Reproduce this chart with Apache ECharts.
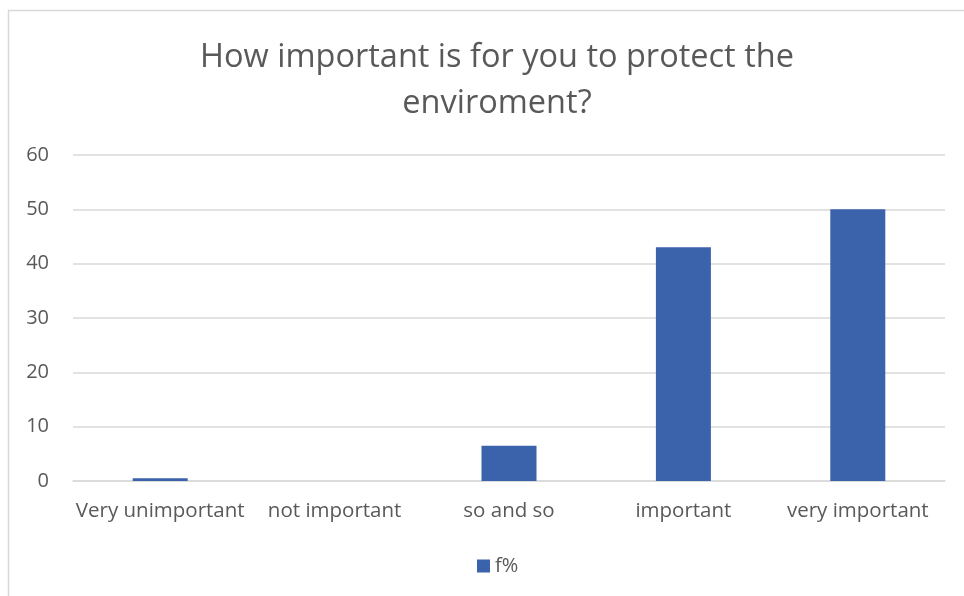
<!DOCTYPE html>
<html><head><meta charset="utf-8">
<script src="https://cdn.jsdelivr.net/npm/echarts@6/dist/echarts.min.js"></script>
<style>html,body{margin:0;padding:0;background:#fff;}#c{width:964px;height:596px;}</style>
</head><body><div id="c"></div>
<script>
const categories = ['Very unimportant', 'not important', 'so and so', 'important', 'very important'];
const seriesName = 'f%';
const values = [0.5, 0, 6.5, 43, 50];
const titleLines = ['How important is for you to protect the', 'enviroment?'];

const chart = echarts.init(document.getElementById('c'), null, {renderer: 'canvas'});
const FONT = '"Open Sans", "Noto Sans", sans-serif';
chart.setOption({
  animation: false,
  backgroundColor: '#fff',
  graphic: [{
    type: 'rect', shape: {x: 8.5, y: 10.5, width: 1000, height: 700},
    style: {fill: 'none', stroke: '#d9d9d9', lineWidth: 1.5}, silent: true, z: -1
  }],
  title: {
    text: titleLines.join('\n'),
    left: 492, textAlign: 'center', top: 30,
    textStyle: {fontFamily: FONT, fontSize: 32.5, fontWeight: 'normal', color: '#595959', lineHeight: 46}
  },
  legend: {
    data: [seriesName], bottom: 15, left: 472,
    itemWidth: 13, itemHeight: 13, itemGap: 4,
    icon: 'rect',
    textStyle: {fontFamily: FONT, fontSize: 20, color: '#595959', padding: [0,0,0,0]}
  },
  grid: {left: 73, right: 19, top: 155, bottom: 115, containLabel: false},
  xAxis: {
    type: 'category', data: categories,
    axisLine: {show: true, lineStyle: {color: '#d9d9d9', width: 1.5}},
    axisTick: {show: false},
    axisLabel: {fontFamily: FONT, fontSize: 20.5, color: '#595959', margin: 20, interval: 0}
  },
  yAxis: {
    type: 'value', min: 0, max: 60, interval: 10,
    axisLine: {show: false}, axisTick: {show: false},
    splitLine: {lineStyle: {color: '#d9d9d9', width: 1.5}},
    axisLabel: {fontFamily: FONT, fontSize: 20, color: '#595959', margin: 24}
  },
  series: [{
    name: seriesName, type: 'bar', data: values, barWidth: 55,
    itemStyle: {color: '#3a63ab'}
  }]
});
</script></body></html>
